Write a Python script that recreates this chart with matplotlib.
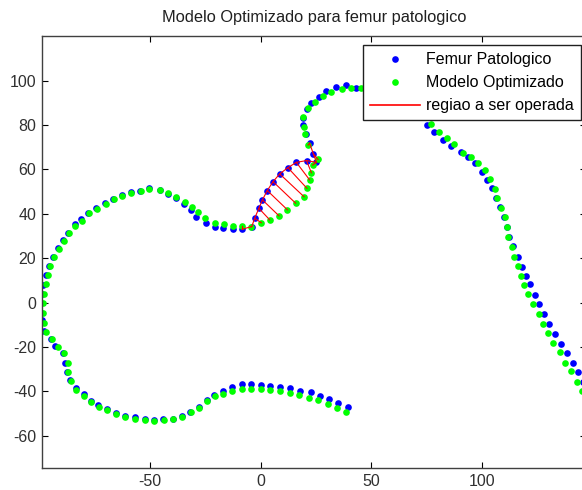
"""
Modelo optimizado vs femur patologico (contorno).
Saves out.png
"""

import matplotlib.pyplot as plt

plt.rcParams["font.family"] = ["Liberation Sans", "DejaVu Sans"]
plt.rcParams["axes.unicode_minus"] = False

# contorno medido (azul) - ordem: extremo inferior direito -> extremo direito
femur_x = [
    39.5, 34.9, 30.9, 26.7, 22.6, 17.9, 13.4, 8.9, 4.2, 0.3,
    -4.2, -8.4, -13.0, -17.0, -20.9, -24.4, -27.8, -31.8, -35.6, -39.6,
    -43.9, -48.1, -52.1, -56.9, -61.0, -65.3, -69.4, -73.3, -76.7, -79.9,
    -83.4, -85.9, -87.3, -88.1, -89.3, -92.6, -94.6, -97.6, -98.6, -99.4,
    -99.4, -98.6, -98.4, -96.8, -95.5, -93.8, -91.6, -89.2, -86.8, -83.9,
    -81.0, -77.8, -74.2, -70.2, -66.4, -62.6, -58.5, -54.3, -50.2, -45.6,
    -41.7, -38.1, -34.8, -31.6, -29.1, -24.5, -20.8, -17.0, -12.5, -8.3,
    -4.0, -2.7, -0.8, 0.8, 3.0, 5.6, 8.6, 12.3, 16.1, 20.7,
    25.2, 23.8, 22.1, 20.4, 19.1, 19.1, 20.7, 22.9, 26.3, 29.7,
    34.2, 38.7, 43.2, 47.7, 52.2, 56.7, 61.0, 65.0, 68.7, 71.8,
    73.8, 74.9, 78.2, 82.1, 85.7, 90.2, 93.7, 96.7, 99.7, 102.3,
    104.2, 106.4, 108.2, 109.9, 111.0, 112.0, 114.0, 116.3, 117.8, 119.7,
    121.6, 123.8, 125.6, 127.9, 130.1, 132.9, 135.6, 138.1, 140.8, 143.4,
    145.6, 147.5,
]
femur_y = [
    -46.8, -45.3, -43.5, -41.9, -40.4, -39.6, -38.6, -37.8, -37.4, -36.9,
    -36.8, -36.8, -37.8, -39.6, -41.6, -44.0, -47.0, -49.2, -51.2, -52.2,
    -52.4, -52.9, -52.2, -51.6, -51.0, -49.6, -48.1, -46.3, -44.2, -41.3,
    -38.4, -34.9, -31.3, -27.0, -22.8, -19.4, -16.3, -12.8, -7.8, -4.2,
    -0.3, 4.0, 7.8, 12.4, 16.6, 20.6, 24.5, 28.2, 31.6, 35.3,
    37.6, 40.3, 42.8, 45.0, 46.8, 48.5, 49.7, 50.5, 51.5, 50.9,
    48.8, 47.0, 44.3, 41.8, 38.7, 36.0, 34.2, 33.5, 33.1, 33.1,
    34.3, 38.0, 42.5, 46.3, 50.5, 54.5, 58.0, 60.8, 63.2, 64.0,
    63.2, 67.0, 71.8, 76.0, 80.0, 83.3, 87.1, 89.8, 92.8, 95.4,
    97.3, 98.1, 96.8, 97.5, 97.3, 96.8, 95.5, 93.5, 90.8, 87.5,
    83.8, 80.0, 76.8, 73.3, 70.6, 68.0, 65.8, 62.8, 59.0, 55.2,
    51.5, 47.2, 42.9, 38.6, 34.3, 29.8, 25.3, 20.5, 16.2, 12.0,
    8.3, 3.5, -0.6, -5.1, -9.6, -14.2, -18.7, -22.8, -27.3, -31.4,
    -35.8, -40.0,
]

# modelo optimizado (verde), mesma ordem
modelo_x = [
    38.3, 34.3, 30.4, 26.1, 21.8, 17.3, 13.1, 8.7, 4.2, 0.1,
    -4.4, -8.4, -13.0, -17.0, -20.8, -24.3, -27.6, -31.6, -35.4, -39.4,
    -43.7, -47.9, -52.0, -56.8, -61.0, -65.4, -69.3, -73.1, -76.4, -79.8,
    -83.3, -85.4, -86.9, -87.1, -88.6, -91.4, -94.2, -96.8, -97.8, -98.4,
    -98.4, -97.6, -97.0, -96.1, -94.9, -93.4, -91.2, -88.9, -86.6, -83.8,
    -80.6, -77.6, -74.0, -70.0, -66.3, -62.5, -58.4, -54.2, -50.2, -45.6,
    -41.7, -38.1, -34.3, -31.0, -28.3, -25.0, -20.8, -16.6, -12.5, -8.3,
    -4.2, 0.3, 4.1, 8.3, 12.1, 15.8, 19.6, 20.9, 22.1, 22.9,
    23.5, 25.9, 21.4, 19.9, 19.4, 19.1, 21.4, 24.4, 28.2, 31.9,
    36.5, 41.0, 45.5, 50.0, 54.5, 59.0, 63.2, 67.0, 70.5, 73.8,
    77.1, 80.6, 83.9, 87.2, 91.1, 94.8, 98.2, 101.2, 103.5, 105.7,
    106.8, 108.5, 110.3, 111.3, 111.8, 113.3, 114.5, 116.0, 117.5, 119.0,
    120.8, 123.0, 125.6, 127.6, 129.8, 132.1, 135.1, 137.4, 140.1, 142.9,
    144.9,
]
modelo_y = [
    -49.1, -47.4, -45.6, -43.8, -42.8, -41.4, -40.5, -39.9, -39.3, -38.7,
    -38.7, -38.7, -39.9, -41.1, -42.0, -44.3, -47.3, -49.4, -51.4, -52.5,
    -52.8, -53.2, -52.8, -52.5, -51.6, -50.1, -48.5, -46.8, -44.6, -42.0,
    -39.3, -35.4, -31.4, -27.0, -22.8, -19.8, -16.5, -13.2, -9.0, -4.5,
    0.0, 4.1, 8.4, 12.5, 16.5, 20.4, 24.2, 27.8, 31.3, 34.6,
    37.0, 40.2, 42.4, 44.6, 46.5, 48.2, 49.5, 50.3, 51.1, 50.8,
    49.5, 47.7, 45.2, 43.2, 41.0, 38.0, 36.0, 35.3, 34.5, 34.5,
    34.2, 36.0, 37.3, 39.1, 41.8, 44.8, 47.7, 51.5, 55.3, 58.5,
    62.0, 64.5, 71.0, 75.9, 79.3, 83.8, 87.6, 90.5, 93.2, 95.0,
    96.3, 96.8, 96.6, 96.5, 96.0, 95.0, 93.2, 90.5, 87.4, 84.0,
    80.5, 76.8, 74.0, 71.3, 67.3, 65.5, 63.1, 59.8, 55.6, 51.1,
    47.0, 42.8, 38.5, 34.2, 29.7, 25.2, 20.5, 16.5, 12.0, 8.0,
    3.9, -0.6, -5.1, -9.6, -13.8, -18.3, -22.3, -27.0, -30.8, -35.6,
    -39.6,
]

# pontos da regiao a ser operada (indices nos dois contornos)
regiao_ini = 69
regiao_fim = 83

xlim = (-98.8, 147.0)
ylim = (-74.6, 120.1)
x_ticks = [-50, 0, 50, 100]
y_ticks = [-60, -40, -20, 0, 20, 40, 60, 80, 100]

titulo = "Modelo Optimizado para femur patologico"
rotulos = ["Femur Patologico", "Modelo Optimizado", "regiao a ser operada"]


def main():
    fig = plt.figure(figsize=(5.82, 4.90), dpi=100)
    ax = fig.add_axes([0.07165, 0.04429, 0.9359, 0.8822])

    h1, = ax.plot(femur_x, femur_y, ls="none", marker="o", ms=4.8, mew=0,
                  color=(0, 0, 1))
    h2, = ax.plot(modelo_x, modelo_y, ls="none", marker="o", ms=4.8, mew=0,
                  color=(0, 1, 0))

    fx = femur_x[regiao_ini:regiao_fim]
    fy = femur_y[regiao_ini:regiao_fim]
    mx = modelo_x[regiao_ini:regiao_fim]
    my = modelo_y[regiao_ini:regiao_fim]
    h3, = ax.plot(fx, fy, color=(1, 0, 0), lw=0.8)
    for a, b, c, d in zip(fx, fy, mx, my):
        ax.plot([a, c], [b, d], color=(1, 0, 0), lw=0.8)

    ax.set_xlim(*xlim)
    ax.set_ylim(*ylim)
    ax.set_xticks(x_ticks)
    ax.set_yticks(y_ticks)
    ax.tick_params(direction="in", length=4, width=0.8, labelsize=11.5,
                   top=True, right=True, pad=4, labelcolor="#303030")
    for s in ax.spines.values():
        s.set_color("#404040")
        s.set_linewidth(1.0)

    fig.text(314.5 / 582, 1 - 22 / 490, titulo, ha="center", va="baseline",
             fontsize=11.8, color="#202020")

    leg = ax.legend([h1, h2, h3], rotulos, loc="upper right",
                    bbox_to_anchor=(581 / 582, 1 - 45 / 490),
                    bbox_transform=fig.transFigure, borderaxespad=0,
                    fontsize=11.5, handlelength=3.1, handletextpad=0.4,
                    labelspacing=0.5, borderpad=0.45, fancybox=False,
                    framealpha=1, edgecolor="#202020", numpoints=1,
                    markerscale=1.0)
    leg.get_frame().set_linewidth(1.0)
    leg.get_lines()[2].set_color((1, 0, 0))
    leg.get_lines()[2].set_linewidth(1.2)

    fig.savefig("out.png", dpi=100)


if __name__ == "__main__":
    main()
